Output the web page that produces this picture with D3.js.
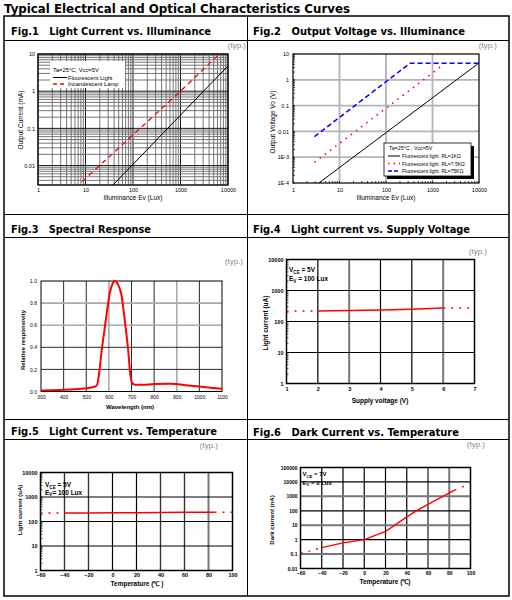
<!DOCTYPE html>
<html><head><meta charset="utf-8">
<script src="https://cdn.jsdelivr.net/npm/d3@7"></script>
<style>
body{margin:0;background:#fff;}
svg{display:block;}
svg text{white-space:pre;}
</style></head><body>
<svg id="c" width="512" height="600"></svg>
<script>
// ---------------- DATA ----------------
const title = "Typical Electrical and Optical Characteristics Curves";
const headers = [
  "Fig.1   Light Current vs. Illuminance",
  "Fig.2   Output Voltage vs. Illuminance",
  "Fig.3   Spectral Response",
  "Fig.4   Light current vs. Supply Voltage",
  "Fig.5   Light Current vs. Temperature",
  "Fig.6   Dark Current vs. Temperature"
];
const typLabel = "(typ.)";

// Fig.1
const fig1Legend = ["Ta=25°C, Vcc=5V", "Flourescent Light", "Incandescent Lamp"];
const fig1FluorLux = [38, 10000];
const fig1FluorCurrent = [0.003, 4.8];
const fig1IncLux = [8.5, 1000, 6000];
const fig1IncCurrent = [0.0037, 1.0, 8.9];
const fig1XTicks = [1, 10, 100, 1000, 10000];
const fig1YTicks = [0.01, 0.1, 1, 10];

// Fig.2
const fig2Legend = ["Ta=25°C ; Vcc=5V", "Fluorescent light  RL=1KΩ", "Fluorescent light  RL=7.5KΩ", "Fluorescent light  RL=75KΩ"];
const fig2Lux1K = [3.6, 10000];
const fig2Vo1K = [0.0001, 4.5];
const fig2Lux7K5 = [2.9, 1500];
const fig2Vo7K5 = [0.00063, 3.2];
const fig2Lux75K = [2.9, 330, 10000];
const fig2Vo75K = [0.0063, 4.4, 4.4];
const fig2XTicks = [1, 10, 100, 1000, 10000];
const fig2YTicks = [10, 1, 0.1, 0.01, 0.001, 0.0001];
const fig2YLabels = ["10", "1", "0.1", "0.01", "1E-3", "1E-4"];

// Fig.3
const fig3Wavelength = [300, 350, 400, 450, 500, 540, 548, 570, 590, 605, 615, 627, 640, 655, 670, 685, 695, 702, 715, 750, 800, 870, 950, 1000, 1050, 1100];
const fig3Response  = [0.01, 0.012, 0.015, 0.02, 0.03, 0.045, 0.06, 0.4, 0.7, 0.9, 0.97, 1.0, 0.97, 0.88, 0.65, 0.38, 0.15, 0.08, 0.06, 0.06, 0.068, 0.07, 0.055, 0.045, 0.035, 0.025];
const fig3XTicks = [300, 400, 500, 600, 700, 800, 900, 1000, 1100];
const fig3YTicks = [0, 0.2, 0.4, 0.6, 0.8, 1.0];

// Fig.4
const fig4Voltage = [1, 2, 3, 4, 5, 6, 7];
const fig4Current = [220, 220, 225, 235, 250, 275, 275];
const fig4Measured = [2, 6];
const fig4XTicks = [1, 2, 3, 4, 5, 6, 7];
const fig4YTicks = [1, 10, 100, 1000, 10000];

// Fig.5
const fig5Temp = [-60, -40, -20, 0, 20, 40, 60, 85, 100];
const fig5Current = [220, 220, 222, 226, 230, 234, 237, 240, 240];
const fig5Measured = [-40, 85];
const fig5XTicks = [-60, -40, -20, 0, 20, 40, 60, 80, 100];
const fig5YTicks = [1, 10, 100, 1000, 10000];

// Fig.6
const fig6Temp = [-60, -50, -40, -20, 0, 20, 25, 40, 50, 60, 85, 100];
const fig6Dark = [0.12, 0.17, 0.28, 0.6, 1.0, 3.8, 6.5, 38, 110, 275, 2700, 7800];
const fig6Measured = [-40, 85];
const fig6XTicks = [-60, -40, -20, 0, 20, 40, 60, 80, 100];
const fig6YTicks = [0.01, 0.1, 1, 10, 100, 1000, 10000, 100000];

// ---------------- HELPERS ----------------
const svg = d3.select("#c");
const SANS = "'Liberation Sans', Arial, sans-serif";
const HEAD = "'DejaVu Sans', Verdana, sans-serif";
const RED = "#ff0000";

function pathOf(g, xs, ys, xS, yS, stroke, w, dash, curve) {
  const pts = xs.map((v, i) => [v, ys[i]]);
  g.append("path")
    .attr("d", d3.line().x(d => xS(d[0])).y(d => yS(d[1])).curve(curve || d3.curveLinear)(pts))
    .attr("fill", "none").attr("stroke", stroke).attr("stroke-width", w)
    .attr("stroke-dasharray", dash || null);
}
function splitLine(g, xs, ys, xS, yS, range, w) {
  const inI = xs.map((v, i) => i).filter(i => xs[i] >= range[0] && xs[i] <= range[1]);
  const loI = xs.map((v, i) => i).filter(i => xs[i] <= range[0]);
  const hiI = xs.map((v, i) => i).filter(i => xs[i] >= range[1]);
  pathOf(g, inI.map(i => xs[i]), inI.map(i => ys[i]), xS, yS, RED, w);
  pathOf(g, loI.map(i => xs[i]), loI.map(i => ys[i]), xS, yS, RED, w, "2,6");
  pathOf(g, hiI.map(i => xs[i]), hiI.map(i => ys[i]), xS, yS, RED, w, "2,6");
}
function vline(g, x, y1, y2, c, w) {
  g.append("line").attr("x1", x).attr("x2", x).attr("y1", y1).attr("y2", y2).attr("stroke", c).attr("stroke-width", w);
}
function hline(g, y, x1, x2, c, w) {
  g.append("line").attr("x1", x1).attr("x2", x2).attr("y1", y).attr("y2", y).attr("stroke", c).attr("stroke-width", w);
}
function axes(g, xS, yS, xt, yt, xfmt, yfmt, opts) {
  const fs = opts.fs || 5.5, fw = opts.bold ? "bold" : "normal";
  const ax = g.append("g").attr("transform", `translate(0,${yS.range()[0]})`)
    .call(d3.axisBottom(xS).tickValues(xt).tickSize(0).tickPadding(opts.xpad).tickFormat(xfmt));
  const ay = g.append("g").attr("transform", `translate(${xS.range()[0]},0)`)
    .call(d3.axisLeft(yS).tickValues(yt).tickSize(0).tickPadding(opts.ypad).tickFormat(yfmt));
  [ax, ay].forEach(a => {
    a.select(".domain").remove();
    a.selectAll("text").attr("font-family", SANS).attr("font-size", fs).attr("font-weight", fw).attr("fill", "#000");
  });
}
function frame(g, xS, yS, w) {
  const [x0, x1] = xS.range(), [y0, y1] = yS.range();
  g.append("rect").attr("x", x0).attr("y", y1).attr("width", x1 - x0).attr("height", y0 - y1)
    .attr("fill", "none").attr("stroke", "#000").attr("stroke-width", w);
}
function bg(g, xS, yS) {
  const [x0, x1] = xS.range(), [y0, y1] = yS.range();
  g.append("rect").attr("x", x0).attr("y", y1).attr("width", x1 - x0).attr("height", y0 - y1).attr("fill", "#fff");
}
function text(g, x, y, s, o) {
  o = o || {};
  const t = g.append("text").attr("x", x).attr("y", y).text(s)
    .attr("font-family", o.ff || SANS).attr("font-size", o.fs || 6.5)
    .attr("font-weight", o.bold ? "bold" : "normal").attr("fill", o.fill || "#000")
    .attr("text-anchor", o.anchor || "start");
  if (o.rot) t.attr("transform", `rotate(-90,${x},${y})`);
  if (o.len) t.attr("textLength", o.len).attr("lengthAdjust", "spacingAndGlyphs");
  return t;
}
function subText(g, x, y, main, sub, rest, fs) {
  const t = g.append("text").attr("x", x).attr("y", y).attr("font-family", SANS)
    .attr("font-size", fs).attr("font-weight", "bold").attr("fill", "#000");
  t.append("tspan").text(main);
  t.append("tspan").text(sub).attr("font-size", fs * 0.7).attr("dy", 1.5);
  t.append("tspan").text(rest).attr("dy", -1.5);
}
function minorTicksLeft(g, xS, yS, len) {
  const x0 = xS.range()[0];
  yS.ticks().forEach(v => g.append("line").attr("x1", x0).attr("x2", x0 + len)
    .attr("y1", yS(v)).attr("y2", yS(v)).attr("stroke", "#000").attr("stroke-width", 0.7));
}
function minorTicksBottom(g, xS, yS, len) {
  const y0 = yS.range()[0];
  xS.ticks().forEach(v => g.append("line").attr("y1", y0).attr("y2", y0 - len)
    .attr("x1", xS(v)).attr("x2", xS(v)).attr("stroke", "#000").attr("stroke-width", 0.7));
}

// ---------------- TABLE ----------------
text(svg, 4, 13, title, {ff: HEAD, fs: 13, bold: true, len: 346});
svg.append("rect").attr("x", 4).attr("y", 16).attr("width", 505).attr("height", 580)
  .attr("fill", "none").attr("stroke", "#000").attr("stroke-width", 1.5);
vline(svg, 247.5, 16, 596, "#000", 1);
[40.5, 214.5, 237.5, 419.5, 439.5].forEach(y => hline(svg, y, 4, 509, "#000", 1));

const hdrPos = [[11, 35.3, 200], [253, 35.3, 212], [11, 233, 140], [253, 233, 217], [11, 435, 206], [253, 435.5, 206]];
headers.forEach((h, i) => text(svg, hdrPos[i][0], hdrPos[i][1], h, {ff: HEAD, fs: 10.5, bold: true, len: hdrPos[i][2]}));
const typPos = [[246, 48], [497, 48], [243, 264], [487, 254], [218, 448], [485, 447]];
typPos.forEach(p => text(svg, p[0], p[1], typLabel, {fs: 8, fill: "#888", anchor: "end"}));

// ---------------- FIG 1 ----------------
{
  const g = svg.append("g");
  const x = d3.scaleLog().domain([1, 10000]).range([38, 228]);
  const y = d3.scaleLog().domain([0.003, 10]).range([185, 54]);
  bg(g, x, y);
  x.ticks().forEach(v => vline(g, x(v), 54, 185, fig1XTicks.includes(v) ? "#000" : "#666", 0.9));
  y.ticks().forEach(v => hline(g, y(v), 38, 228, fig1YTicks.includes(v) ? "#000" : "#666", 0.9));
  frame(g, x, y, 1.2);
  pathOf(g, fig1FluorLux, fig1FluorCurrent, x, y, "#000", 1);
  pathOf(g, fig1IncLux, fig1IncCurrent, x, y, RED, 1.3, "5,4");
  axes(g, x, y, fig1XTicks, fig1YTicks, d3.format("~g"), d3.format("~g"), {xpad: 3, ypad: 3});
  // legend
  g.append("rect").attr("x", 50).attr("y", 61).attr("width", 75).attr("height", 27).attr("fill", "#fff");
  text(g, 53, 72, fig1Legend[0], {fs: 5.8});
  hline(g, 77.5, 53, 67, "#000", 1);
  text(g, 68, 79.5, fig1Legend[1], {fs: 5.8});
  g.append("line").attr("x1", 53).attr("x2", 67).attr("y1", 84).attr("y2", 84).attr("stroke", RED)
    .attr("stroke-width", 1.3).attr("stroke-dasharray", "4,3");
  text(g, 68, 86, fig1Legend[2], {fs: 5.8});
  text(g, 133, 200, "Illuminance Ev (Lux)", {fs: 6.5, anchor: "middle"});
  text(g, 22.5, 120, "Output Current (mA)", {fs: 6.5, anchor: "middle", rot: true});
}

// ---------------- FIG 2 ----------------
{
  const g = svg.append("g");
  const x = d3.scaleLog().domain([1, 10000]).range([293, 479]);
  const y = d3.scaleLog().domain([0.0001, 10]).range([183, 54]);
  bg(g, x, y);
  [10, 100, 1000].forEach(v => vline(g, x(v), 54, 183, "#b4b4b4", 1.8));
  [1, 0.1, 0.01, 0.001].forEach(v => hline(g, y(v), 293, 479, "#b4b4b4", 1.8));
  minorTicksLeft(g, x, y, 2);
  minorTicksBottom(g, x, y, 2);
  frame(g, x, y, 1.2);
  pathOf(g, fig2Lux1K, fig2Vo1K, x, y, "#000", 1);
  pathOf(g, fig2Lux7K5, fig2Vo7K5, x, y, RED, 1.6, "1.5,5");
  pathOf(g, fig2Lux75K, fig2Vo75K, x, y, "#0000ff", 1.5, "5,3");
  axes(g, x, y, fig2XTicks, fig2YTicks, d3.format("~g"), (d, i) => fig2YLabels[i], {xpad: 5, ypad: 4});
  // legend with shadow
  g.append("rect").attr("x", 387).attr("y", 146).attr("width", 87).attr("height", 33).attr("fill", "#000");
  g.append("rect").attr("x", 384).attr("y", 143).attr("width", 87).attr("height", 33).attr("fill", "#fff")
    .attr("stroke", "#000").attr("stroke-width", 0.8);
  text(g, 389, 150, fig2Legend[0], {fs: 5.3});
  hline(g, 156, 388, 400, "#000", 1);
  text(g, 402, 158, fig2Legend[1], {fs: 5});
  g.append("line").attr("x1", 388).attr("x2", 400).attr("y1", 163.5).attr("y2", 163.5).attr("stroke", RED)
    .attr("stroke-width", 1.4).attr("stroke-dasharray", "1.5,4");
  text(g, 402, 165.5, fig2Legend[2], {fs: 5});
  g.append("line").attr("x1", 388).attr("x2", 400).attr("y1", 171).attr("y2", 171).attr("stroke", "#0000ff")
    .attr("stroke-width", 1.4).attr("stroke-dasharray", "4,2");
  text(g, 402, 173, fig2Legend[3], {fs: 5});
  text(g, 386, 200, "Illuminance Ev (Lux)", {fs: 6.5, anchor: "middle"});
  text(g, 274.5, 122, "Output Voltage Vo (V)", {fs: 6.5, anchor: "middle", rot: true});
}

// ---------------- FIG 3 ----------------
{
  const g = svg.append("g");
  const x = d3.scaleLinear().domain([300, 1100]).range([41, 222]);
  const y = d3.scaleLinear().domain([0, 1]).range([391.5, 281]);
  bg(g, x, y);
  const vStyle = {400: "d", 500: "d", 600: "l", 700: "d", 800: "d", 900: "l", 1000: "d"};
  Object.keys(vStyle).forEach(k => vline(g, x(+k), 281, 391.5, vStyle[k] === "d" ? "#111" : "#aaa", vStyle[k] === "d" ? 0.9 : 1.6));
  const hStyle = {0.2: "d", 0.4: "d", 0.6: "l", 0.8: "l"};
  Object.keys(hStyle).forEach(k => hline(g, y(+k), 41, 222, hStyle[k] === "d" ? "#111" : "#aaa", hStyle[k] === "d" ? 0.9 : 1.6));
  frame(g, x, y, 1);
  pathOf(g, fig3Wavelength, fig3Response, x, y, RED, 2, null, d3.curveMonotoneX);
  axes(g, x, y, fig3XTicks, fig3YTicks, d3.format("d"), d3.format(".1f"), {xpad: 4, ypad: 4, fs: 5});
  text(g, 130, 408.5, "Wavelength (nm)", {fs: 6, bold: true, anchor: "middle"});
  text(g, 25, 340, "Relative responsivity", {fs: 6, bold: true, anchor: "middle", rot: true});
}

// ---------------- FIG 4 ----------------
{
  const g = svg.append("g");
  const x = d3.scaleLinear().domain([1, 7]).range([286.5, 474.5]);
  const y = d3.scaleLog().domain([1, 10000]).range([383.5, 259.5]);
  bg(g, x, y);
  const vStyle = {2: "d", 3: "l", 4: "d", 5: "d", 6: "l"};
  Object.keys(vStyle).forEach(k => vline(g, x(+k), 259.5, 383.5, vStyle[k] === "d" ? "#000" : "#777", vStyle[k] === "d" ? 1.2 : 2));
  [10, 100, 1000].forEach(v => hline(g, y(v), 286.5, 474.5, "#000", 1.2));
  minorTicksLeft(g, x, y, 2);
  frame(g, x, y, 1.5);
  splitLine(g, fig4Voltage, fig4Current, x, y, fig4Measured, 1.5);
  axes(g, x, y, fig4XTicks, fig4YTicks, d3.format("d"), d3.format("d"), {xpad: 4, ypad: 3, bold: true});
  subText(g, 289, 272, "V", "CE", " = 5V", 6.5);
  subText(g, 289, 281, "E", "V", " = 100 Lux", 6.5);
  text(g, 380, 403, "Supply voltage (V)", {fs: 6.5, bold: true, anchor: "middle"});
  text(g, 268, 323, "Light current (uA)", {fs: 6.5, bold: true, anchor: "middle", rot: true});
}

// ---------------- FIG 5 ----------------
{
  const g = svg.append("g");
  const x = d3.scaleLinear().domain([-60, 100]).range([40.5, 232.5]);
  const y = d3.scaleLog().domain([1, 10000]).range([570.5, 472.5]);
  bg(g, x, y);
  const vStyle = {"-40": "m", "-20": "m", "0": "d", "20": "d", "40": "m", "60": "m", "80": "l"};
  const col = {d: "#000", m: "#333", l: "#777"}, wid = {d: 1.2, m: 1.4, l: 2};
  Object.keys(vStyle).forEach(k => vline(g, x(+k), 472.5, 570.5, col[vStyle[k]], wid[vStyle[k]]));
  [10, 100, 1000].forEach(v => hline(g, y(v), 40.5, 232.5, "#000", 1.2));
  minorTicksLeft(g, x, y, 2);
  frame(g, x, y, 1.5);
  splitLine(g, fig5Temp, fig5Current, x, y, fig5Measured, 1.5);
  axes(g, x, y, fig5XTicks, fig5YTicks, d3.format("d"), d3.format("d"), {xpad: 3, ypad: 3, bold: true});
  subText(g, 45, 487, "V", "CE", " = 5V", 6.5);
  subText(g, 45, 494.5, "E", "V", "= 100 Lux", 6.5);
  text(g, 137, 586, "Temperature (℃ )", {fs: 6.5, bold: true, anchor: "middle"});
  text(g, 22, 510, "Light current (uA)", {fs: 6, bold: true, anchor: "middle", rot: true});
}

// ---------------- FIG 6 ----------------
{
  const g = svg.append("g");
  const x = d3.scaleLinear().domain([-60, 100]).range([300.5, 470.5]);
  const y = d3.scaleLog().domain([0.01, 100000]).range([568.5, 467.5]);
  bg(g, x, y);
  const vStyle = {"-40": "d", "-20": "d", "0": "d", "20": "d", "40": "d", "60": "l", "80": "l"};
  Object.keys(vStyle).forEach(k => vline(g, x(+k), 467.5, 568.5, vStyle[k] === "d" ? "#000" : "#777", vStyle[k] === "d" ? 1.2 : 2));
  const hStyle = {10000: "d", 1000: "l", 100: "d", 10: "l", 1: "d", 0.1: "l"};
  Object.keys(hStyle).forEach(k => hline(g, y(+k), 300.5, 470.5, hStyle[k] === "d" ? "#000" : "#777", hStyle[k] === "d" ? 1.2 : 2));
  frame(g, x, y, 1.5);
  splitLine(g, fig6Temp, fig6Dark, x, y, fig6Measured, 1.4);
  axes(g, x, y, fig6XTicks, fig6YTicks, d3.format("d"), d3.format("~g"), {xpad: 3, ypad: 3, bold: true, fs: 5});
  subText(g, 302.5, 476, "V", "CE", " = 7V", 6);
  subText(g, 302.5, 484.5, "E", "V", " = 0 Lux", 6);
  text(g, 385, 584, "Temperature (℃)", {fs: 6.5, bold: true, anchor: "middle"});
  text(g, 274, 520, "Dark current (nA)", {fs: 6, bold: true, anchor: "middle", rot: true});
}
</script></body></html>
